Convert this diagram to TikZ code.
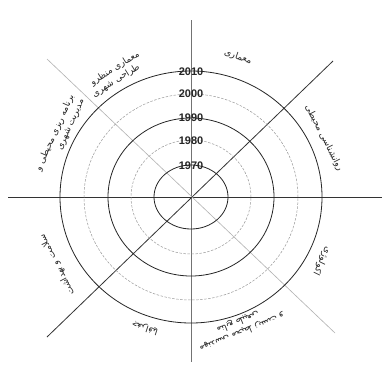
\documentclass[tikz,border=0pt]{standalone}
\usepackage{fontspec}
\setmainfont{Liberation Sans}
\newfontfamily\arabicfont[Script=Arabic]{DejaVu Sans}
\TeXXeTstate=1
\begin{document}
\begin{tikzpicture}[x=1pt,y=-1pt,
  solidring/.style={draw=black!85,line width=0.8pt},
  dashring/.style={draw=black!40,line width=0.5pt,dash pattern=on 2.5pt off 1.5pt},
  axis/.style={line width=0.8pt},
  year/.style={font=\fontsize{11}{12}\selectfont\bfseries,inner sep=0pt,text=black!85},
  fa/.style={font=\arabicfont\fontsize{9}{11}\selectfont,inner sep=1pt,text=black!85}]
\useasboundingbox[fill=white] (0,0) rectangle (382,372);
\coordinate (c) at (191,197);
% axes
\coordinate (vt) at (191,20);
\coordinate (vb) at (191,362);
\coordinate (hl) at (8,197);
\coordinate (hr) at (382,197);
\coordinate (d1a) at (47,337);
\coordinate (d1b) at (333,61);
\coordinate (d2a) at (47,59);
\coordinate (d2b) at (335,333);
\draw[axis,draw=black!55] (vt) -- (vb);
\draw[axis,draw=black!80] (hl) -- (hr);
\draw[axis,draw=black!80] (d1a) -- (d1b);
\draw[line width=0.6pt,draw=black!30] (d2a) -- (d2b);
% rings
\draw[solidring] (c) ellipse [x radius=37pt, y radius=32pt];
\draw[dashring] (c) ellipse [x radius=60pt, y radius=57pt];
\draw[solidring] (c) ellipse [x radius=83pt, y radius=79pt];
\draw[dashring] (c) ellipse [x radius=107pt, y radius=103pt];
\draw[solidring] (c) ellipse [x radius=131pt, y radius=126pt];
% years
\node[year] (y2010) at (191,72) {2010};
\node[year] (y2000) at (191,94) {2000};
\node[year] (y1990) at (191,118) {1990};
\node[year] (y1980) at (191,141) {1980};
\node[year] (y1970) at (191,166) {1970};
% labels
\node[fa,rotate=-19] (l1) at (238,57) {\beginR معماری\endR};
\node[fa,rotate=32,align=center] (l2) at (118,73) {\beginR معماری منظرو\endR\\\beginR\ \ \ \ طراحی شهری\endR};
\node[fa,rotate=66,align=right] (l3) at (60,135) {\beginR برنامه ریزی محیطی و\endR\\\beginR مدیریت شهری\ \endR};
\node[fa,rotate=-63] (l4) at (324,138) {\beginR روانشناسی محیطی\endR};
\node[fa,rotate=117] (l5) at (57,265) {\beginR سلامت و بهداشت\endR};
\node[fa,rotate=-116] (l6) at (322,261) {\beginR اکولوژی\endR};
\node[fa,rotate=-158,align=center] (l7) at (240,327) {\beginR مهندسی محیط زیست و\endR\\\beginR منابع طبیعی\endR};
\node[fa,rotate=162] (l8) at (145,328) {\beginR جغرافیا\endR};
\end{tikzpicture}
\end{document}
